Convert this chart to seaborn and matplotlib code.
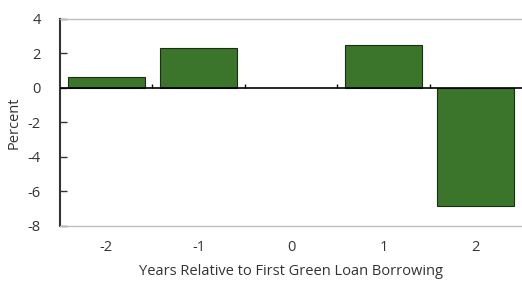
import matplotlib
matplotlib.use('Agg')
import matplotlib.pyplot as plt
import seaborn as sns
import pandas as pd

# data
years = ['-2', '-1', '0', '1', '2']
values = [0.64, 2.3, 0.0, 2.5, -6.85]

df = pd.DataFrame({'year': years, 'value': values})

sns.set_style('white')
plt.rcParams['font.family'] = ['Open Sans', 'DejaVu Sans']

fig = plt.figure(figsize=(5.22, 2.82), dpi=100)
ax = fig.add_axes([0.115, 0.199, 0.885, 0.734])

sns.barplot(data=df, x='year', y='value', color='#3b752b', saturation=1,
            width=0.83, edgecolor='#1a2e12', linewidth=0.8, ax=ax)
# hide outline of empty bars
for p in ax.patches:
    if p.get_height() == 0:
        p.set_linewidth(0)

ax.set_ylim(-8, 4)
ax.set_xlim(-0.5, 4.5)
ax.set_yticks([-8, -6, -4, -2, 0, 2, 4])
ax.set_yticklabels(['-8', '-6', '-4', '-2', '0', '2', '4'])

# zero line with small category-boundary ticks
ax.axhline(0, color='black', lw=1.2, zorder=3)
ax.vlines([i + 0.5 for i in range(len(years) - 1)], 0, 0.25, color='black', lw=1, zorder=3)

for s in ['top', 'bottom']:
    ax.spines[s].set_color('#bfbfbf')
    ax.spines[s].set_linewidth(1)
ax.spines['right'].set_visible(False)
ax.spines['left'].set_color('#333333')
ax.spines['left'].set_linewidth(1.5)

ax.tick_params(axis='y', direction='in', length=5, width=1, color='#333333',
               left=True, labelsize=10.5, labelcolor='#333333', pad=14)
ax.tick_params(axis='x', length=0, labelsize=10.5, labelcolor='#333333', pad=10)

ax.set_ylabel('Percent', fontsize=10.5, color='#333333', labelpad=4)
ax.set_xlabel('Years Relative to First Green Loan Borrowing', fontsize=10.5,
              color='#333333', labelpad=7)

fig.savefig('out.png', dpi=100)
